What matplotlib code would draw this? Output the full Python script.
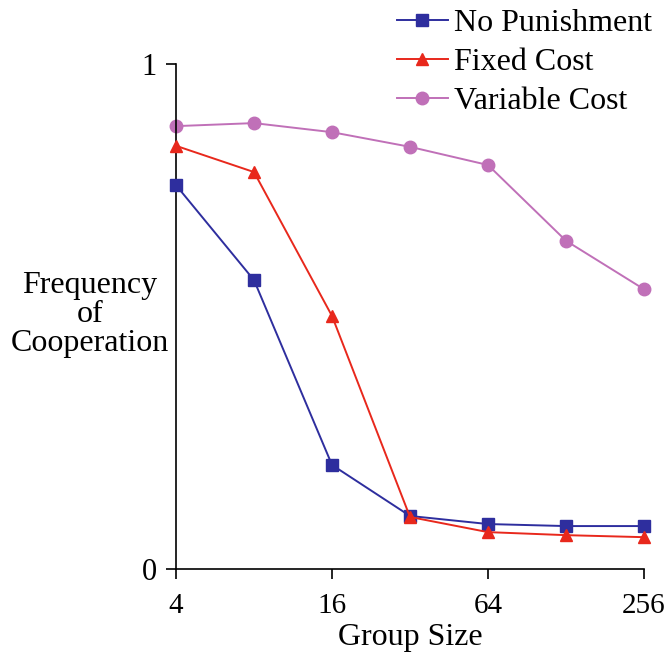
import numpy as np
import matplotlib.pyplot as plt

plt.rcParams['font.family'] = ['Liberation Serif', 'DejaVu Serif']

# group sizes (log2 scale)
group_size = [4, 8, 16, 32, 64, 128, 256]

no_punishment = [0.760, 0.572, 0.206, 0.105, 0.089, 0.085, 0.085]
fixed_cost = [0.838, 0.786, 0.501, 0.103, 0.073, 0.067, 0.063]
variable_cost = [0.877, 0.883, 0.865, 0.836, 0.800, 0.650, 0.554]

fig = plt.figure(figsize=(6.65, 6.62), dpi=100)
ax = fig.add_axes([0.2647, 0.1405, 0.7037, 0.7628])

ax.plot(group_size, no_punishment, color='#2E2E9E', marker='s', markersize=9,
        linewidth=1.4, label='No Punishment', clip_on=False, zorder=3)
ax.plot(group_size, fixed_cost, color='#E8281C', marker='^', markersize=9,
        linewidth=1.4, label='Fixed Cost', clip_on=False, zorder=3)
ax.plot(group_size, variable_cost, color='#C070B8', marker='o', markersize=9,
        linewidth=1.4, label='Variable Cost', clip_on=False, zorder=2)

ax.set_xscale('log', base=2)
ax.set_xlim(4, 256)
ax.set_ylim(0, 1)
ax.set_xticks([4, 16, 64, 256])
ax.set_xticklabels(['4', '16', '64', '256'])
ax.xaxis.set_minor_locator(plt.NullLocator())
ax.set_yticks([0, 1])
ax.set_yticklabels(['0', '1'])

for s in ['top', 'right']:
    ax.spines[s].set_visible(False)
for s in ['left', 'bottom']:
    ax.spines[s].set_linewidth(1.2)
ax.tick_params(labelsize=22, width=1.2, length=7, direction='out')
ax.tick_params(axis='x', pad=10, labelsize=21)
ax.tick_params(axis='y', pad=7)

ax.set_xlabel('Group Size', fontsize=23, labelpad=3)
ax.set_ylabel('Frequency\nof\nCooperation', fontsize=23, rotation=0,
              ha='center', va='center', linespacing=1.0)
ax.yaxis.set_label_coords(-0.184, 0.503)

ax.legend(loc='upper right', bbox_to_anchor=(1.045, 1.135), frameon=False,
          fontsize=23, handlelength=1.6, handletextpad=0.2, labelspacing=0.3,
          borderaxespad=0)

fig.savefig('out.png', dpi=100)
